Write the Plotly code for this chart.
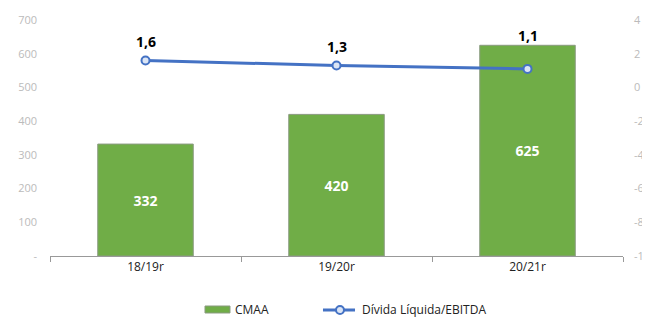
import plotly.graph_objects as go

categories = ["18/19r", "19/20r", "20/21r"]
cmaa = [332, 420, 625]
divida = [1.6, 1.3, 1.1]
divida_labels = ["1,6", "1,3", "1,1"]
left_ticks = [0, 100, 200, 300, 400, 500, 600, 700]
left_ticktext = ["-", "100", "200", "300", "400", "500", "600", "700"]
right_ticks = [-10, -8, -6, -4, -2, 0, 2, 4]
right_ticktext = ["-10", "-8", "-6", "-4", "-2", "0", "2", "4"]

BAR_COLOR = "#70AD47"
LINE_COLOR = "#4472C4"

fig = go.Figure()
fig.add_trace(go.Bar(
    x=categories, y=cmaa, name="CMAA",
    marker=dict(color=BAR_COLOR, line=dict(color="#8a9a80", width=1)),
    text=[str(v) for v in cmaa], textposition="inside", insidetextanchor="middle",
    texttemplate="<b>%{text}</b>",
    textfont=dict(color="white", size=14, family="Open Sans"),
    yaxis="y", showlegend=False,
))
fig.add_trace(go.Scatter(
    x=categories, y=divida, name="Dívida Líquida/EBITDA",
    mode="lines+markers",
    line=dict(color=LINE_COLOR, width=3),
    marker=dict(symbol="circle", size=8, color="#dbe5f5", line=dict(color=LINE_COLOR, width=2)),
    yaxis="y2", showlegend=False,
))
label_shift = [19, 19, 33]
for c, v, t, s in zip(categories, divida, divida_labels, label_shift):
    fig.add_annotation(x=c, y=v, xref="x", yref="y2", text=f"<b>{t}</b>",
                       showarrow=False, yshift=s,
                       font=dict(color="black", size=14, family="Open Sans"))

# custom legend (paper coordinates)
fig.add_shape(type="rect", xref="paper", yref="paper",
              x0=0.2705, x1=0.3141, y0=-0.2415, y1=-0.2119,
              fillcolor=BAR_COLOR, line=dict(color="#8a9a80", width=1))
fig.add_annotation(xref="paper", yref="paper", x=0.3194, y=-0.2288, xanchor="left",
                   yanchor="middle", text="CMAA", showarrow=False,
                   font=dict(size=12, color="#222", family="Open Sans"))
fig.add_shape(type="line", xref="paper", yref="paper",
              x0=0.4764, x1=0.5323, y0=-0.2288, y1=-0.2288,
              line=dict(color=LINE_COLOR, width=3))
fig.add_shape(type="circle", xref="paper", yref="paper",
              x0=0.5061 - 0.0070, x1=0.5061 + 0.0070, y0=-0.2288 - 0.0170, y1=-0.2288 + 0.0170,
              fillcolor="#dbe5f5", line=dict(color=LINE_COLOR, width=2))
fig.add_annotation(xref="paper", yref="paper", x=0.5410, y=-0.2288, xanchor="left",
                   yanchor="middle", text="Dívida Líquida/EBITDA", showarrow=False,
                   font=dict(size=12, color="#222", family="Open Sans"))

fig.update_layout(
    width=650, height=318,
    margin=dict(l=42, r=35, t=12, b=70, autoexpand=False),
    paper_bgcolor="white", plot_bgcolor="white",
    bargap=0.5,
    font=dict(family="Open Sans", size=12, color="#222"),
    xaxis=dict(
        showline=True, linecolor="#999", linewidth=1,
        ticks="outside", tickson="boundaries", ticklen=5, tickcolor="#999",
        tickfont=dict(size=12, color="#222"),
    ),
    yaxis=dict(
        range=[0, 700], tickvals=left_ticks, ticktext=left_ticktext,
        showgrid=False, zeroline=False, showline=False,
        tickfont=dict(size=11, color="#bbbbbb"), ticklabelstandoff=12,
    ),
    yaxis2=dict(
        range=[-10, 4], tickvals=right_ticks, ticktext=right_ticktext,
        overlaying="y", side="right",
        showgrid=False, zeroline=False, showline=False,
        tickfont=dict(size=11, color="#bbbbbb"), ticklabelstandoff=10,
    ),
    showlegend=False,
)

fig.write_html("out.html")
